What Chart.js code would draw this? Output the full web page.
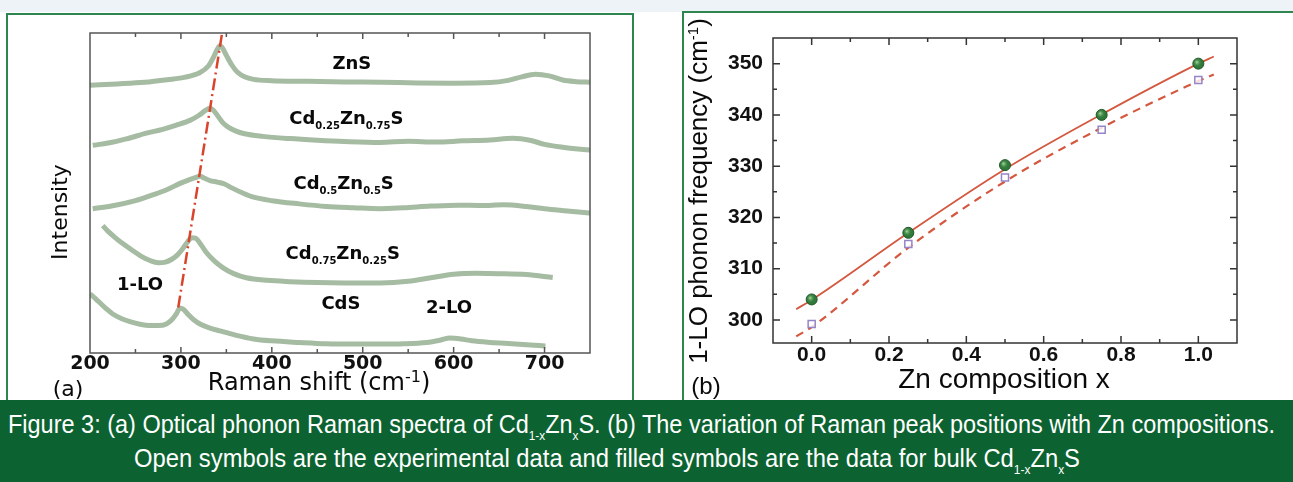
<!DOCTYPE html>
<html>
<head>
<meta charset="utf-8">
<script src="https://cdn.jsdelivr.net/npm/chart.js@4.4.1/dist/chart.umd.min.js"></script>
<style>
  html, body { margin: 0; padding: 0; background: #fff; }
  body { width: 1293px; height: 482px; position: relative; overflow: hidden; }
  #topStrip { position: absolute; left: 0; top: 0; width: 1293px; height: 12px; background: #eef3f8; }
  .panel { position: absolute; border: 2px solid #2f8550; background: #fff; box-sizing: border-box; }
  #panelA { left: 6px; top: 13px; width: 628px; height: 392px; }
  #panelB { left: 682px; top: 11px; width: 620px; height: 394px; }
  canvas { position: absolute; top: 0; }
  #chartA { left: 0; }
  #chartB { left: 640px; }
  #caption { position: absolute; left: 0; top: 400px; width: 1293px; height: 82px; background: #0c6331; color: #fff;
             font-family: 'Liberation Sans', Arial, sans-serif; font-size: 26px; }
  .capLine { position: absolute; white-space: nowrap; transform-origin: 0 0; line-height: 1; }
  .capLine sub { font-size: 13px; vertical-align: -7px; line-height: 0; }
</style>
</head>
<body>
<div id="topStrip"></div>
<div class="panel" id="panelA"></div>
<div class="panel" id="panelB"></div>
<canvas id="chartA" width="640" height="400"></canvas>
<canvas id="chartB" width="653" height="400"></canvas>
<div id="caption">
  <div class="capLine" id="capLine1" style="left:8px; top:11px;">Figure 3: (a) Optical phonon Raman spectra of Cd<sub>1-x</sub>Zn<sub>x</sub>S. (b) The variation of Raman peak positions with Zn compositions.</div>
  <div class="capLine" id="capLine2" style="left:134px; top:45px;">Open symbols are the experimental data and filled symbols are the data for bulk Cd<sub>1-x</sub>Zn<sub>x</sub>S</div>
</div>
<script>
// ---- (a) Raman spectra, arbitrary intensity units (stacked) ----
const shiftZnS = [200, 230, 260, 285, 305, 320, 330, 336, 340, 343, 346, 350, 356, 362, 370, 380, 400, 440, 480, 520, 560, 600, 640, 660, 675, 690, 705, 720, 735, 750];
const countsZnS = [83.7, 84.1, 84.6, 85.4, 86.2, 87.5, 89.6, 92.5, 94.9, 96.0, 95.2, 93.0, 90.0, 87.8, 86.3, 85.5, 85.1, 84.9, 84.7, 84.6, 84.4, 84.3, 84.5, 85.2, 86.3, 87.1, 86.6, 85.3, 84.8, 84.6];

const shiftCd25 = [203, 220, 240, 262, 280, 295, 310, 320, 327, 332, 336, 341, 346, 352, 360, 370, 390, 420, 450, 480, 519, 550, 580, 610, 640, 665, 685, 700, 720, 750];
const countsCd25 = [64.9, 65.6, 66.9, 68.7, 69.9, 71.2, 72.7, 74.3, 75.8, 76.5, 75.8, 73.9, 72.0, 70.6, 69.4, 68.5, 67.7, 67.0, 66.5, 66.1, 65.8, 66.2, 65.9, 66.3, 66.6, 67.1, 66.4, 65.2, 64.3, 63.4];

const shiftCd50 = [203, 225, 250, 270, 285, 299, 308, 315, 321, 326, 332, 340, 348, 356, 368, 380, 400, 430, 460, 490, 519, 545, 575, 605, 630, 655, 680, 700, 725, 750];
const countsCd50 = [45.1, 46.0, 47.6, 49.5, 51.1, 53.0, 54.0, 54.7, 55.2, 54.6, 53.9, 53.4, 52.8, 51.6, 50.0, 48.7, 47.6, 46.6, 45.8, 45.4, 45.1, 45.4, 45.9, 46.2, 46.1, 46.3, 45.8, 45.1, 44.4, 43.7];

const shiftCd75 = [214, 220, 228, 236, 246, 256, 266, 275, 283, 290, 296, 302, 307, 312, 316, 321, 328, 337, 346, 358, 372, 395, 420, 450, 480, 519, 550, 575, 600, 625, 650, 680, 709];
const countsCd75 = [39.8, 38.0, 36.0, 34.2, 32.2, 30.3, 28.9, 28.2, 28.4, 29.3, 30.6, 32.6, 34.6, 36.0, 35.9, 34.3, 31.4, 28.7, 26.7, 24.8, 23.5, 22.7, 22.3, 22.0, 21.9, 21.9, 22.4, 23.5, 24.6, 24.9, 24.8, 24.5, 23.6];

const shiftCdS = [200, 206, 212, 218, 225, 235, 245, 255, 265, 275, 284, 290, 295, 299, 303, 308, 314, 322, 332, 343, 360, 380, 400, 430, 460, 490, 519, 545, 570, 585, 596, 608, 620, 640, 660, 680, 701];
const countsCdS = [18.5, 17.0, 15.4, 13.8, 12.2, 10.7, 9.7, 9.0, 8.6, 8.6, 9.1, 10.4, 12.2, 14.1, 13.6, 12.0, 10.4, 8.9, 7.8, 6.9, 5.6, 4.4, 3.8, 3.3, 2.9, 2.8, 2.8, 2.9, 3.3, 4.0, 4.7, 4.4, 3.8, 3.3, 3.0, 2.6, 2.2];

// 1-LO peak guide (dash-dot)
const loPeakShift = [345, 297];
const loPeakLevel = [99.4, 14.1];

const shiftTicks = [200, 300, 400, 500, 600, 700];

// ---- (b) 1-LO frequency vs Zn composition ----
const znComposition = [0, 0.25, 0.5, 0.75, 1.0];
const bulkFrequency = [304.0, 317.0, 330.2, 340.0, 350.0];     // filled
const measuredFrequency = [299.2, 314.8, 327.8, 337.1, 346.8]; // open
const fitComposition = [-0.04, 0, 0.25, 0.5, 0.75, 1.0, 1.04];
const bulkFit = [302.1, 303.9, 317.0, 329.4, 340.1, 350.0, 351.4];
const measuredFit = [296.8, 298.6, 314.1, 327.0, 337.5, 346.6, 347.9];

const compTicks = [0, 0.2, 0.4, 0.6, 0.8, 1.0];
const compTickLabels = ['0.0', '0.2', '0.4', '0.6', '0.8', '1.0'];
const freqTicks = [300, 310, 320, 330, 340, 350];
const freqTickLabels = ['300', '310', '320', '330', '340', '350'];

const toXY = (xs, ys) => xs.map((x, i) => ({ x: x, y: ys[i] }));

// draw text made of normal / sub / sup pieces, baseline at y
function drawRich(ctx, parts, x, y, font, smallFont, shift) {
    let w = 0;
    parts.forEach(([t, k]) => { ctx.font = k ? smallFont : font; w += ctx.measureText(t).width; });
    let cx = x - w / 2;
    ctx.textAlign = 'left';
    ctx.textBaseline = 'alphabetic';
    parts.forEach(([t, k]) => {
        ctx.font = k ? smallFont : font;
        const dy = k === 'sub' ? shift : (k === 'sup' ? -shift : 0);
        ctx.fillText(t, cx, y + dy);
        cx += ctx.measureText(t).width;
    });
}

// box frame + inward ticks
const frameTicks = {
    id: 'frameTicks',
    afterDatasetsDraw(chart, args, opts) {
        const { ctx, chartArea: a, scales } = chart;
        ctx.save();
        ctx.strokeStyle = opts.color;
        ctx.lineWidth = opts.width;
        ctx.strokeRect(a.left, a.top, a.right - a.left, a.bottom - a.top);

        const each = (scale, step, major, fn) => {
            const n0 = Math.ceil(scale.min / step - 1e-9), n1 = Math.floor(scale.max / step + 1e-9);
            for (let n = n0; n <= n1; n++) {
                const v = n * step;
                if (Math.abs(v - scale.min) < 1e-9 || Math.abs(v - scale.max) < 1e-9) continue;
                const isMajor = Math.abs(v / major - Math.round(v / major)) < 1e-6;
                fn(scale.getPixelForValue(v), isMajor ? opts.majorLen : opts.minorLen);
            }
        };
        ctx.beginPath();
        if (opts.xStep) {
            each(scales.x, opts.xStep, opts.xMajor, (px, len) => {
                ctx.moveTo(px, a.bottom); ctx.lineTo(px, a.bottom - len);
                ctx.moveTo(px, a.top); ctx.lineTo(px, a.top + len);
            });
        }
        if (opts.yStep) {
            each(scales.y, opts.yStep, opts.yMajor, (py, len) => {
                ctx.moveTo(a.left, py); ctx.lineTo(a.left + len, py);
                ctx.moveTo(a.right, py); ctx.lineTo(a.right - len, py);
            });
        }
        ctx.stroke();
        ctx.restore();
    }
};

// in-plot labels (data units) and axis titles (pixels)
const textLayer = {
    id: 'textLayer',
    afterDatasetsDraw(chart, args, opts) {
        const { ctx, scales } = chart;
        ctx.save();
        ctx.fillStyle = '#0a0a0a';
        (opts.labels || []).forEach(l => {
            const px = scales.x.getPixelForValue(l.x);
            const py = scales.y.getPixelForValue(l.y);
            drawRich(ctx, l.parts, px, py + opts.labelSize * 0.36, `bold ${opts.labelSize}px ${opts.family}`, `bold ${opts.subSize}px ${opts.family}`, opts.subShift);
        });
        (opts.titles || []).forEach(t => {
            ctx.save();
            ctx.translate(t.x, t.y);
            if (t.rotate) ctx.rotate(-Math.PI / 2);
            const w = t.weight ? t.weight + ' ' : '';
            drawRich(ctx, t.parts, 0, t.size * 0.36, `${w}${t.size}px ${opts.family}`, `${w}${t.supSize || t.size}px ${opts.family}`, t.supShift || 0);
            ctx.restore();
        });
        ctx.restore();
    }
};

// light highlight on the filled (bulk) balls, placed on the drawn point elements
const ballShine = {
    id: 'ballShine',
    afterDatasetsDraw(chart) {
        const ctx = chart.ctx;
        chart.getDatasetMeta(0).data.forEach(pt => {
            const g = ctx.createRadialGradient(pt.x - 1.5, pt.y - 1.5, 0.3, pt.x - 1, pt.y - 1, 4.5);
            g.addColorStop(0, 'rgba(170,220,160,0.9)');
            g.addColorStop(1, 'rgba(60,130,65,0)');
            ctx.save();
            ctx.fillStyle = g;
            ctx.beginPath();
            ctx.arc(pt.x, pt.y, 5, 0, Math.PI * 2);
            ctx.fill();
            ctx.restore();
        });
    }
};

const traceStyle = { borderColor: '#a5bca3', borderWidth: 5, pointRadius: 0, cubicInterpolationMode: 'monotone', order: 1 };

new Chart(document.getElementById('chartA'), {
    type: 'line',
    data: {
        datasets: [
            { label: '1-LO', data: toXY(loPeakShift, loPeakLevel), borderColor: '#d9442c', borderWidth: 2.5,
              borderDash: [12, 4, 2, 4], pointRadius: 0, tension: 0, order: 0 },
            Object.assign({ label: 'ZnS', data: toXY(shiftZnS, countsZnS) }, traceStyle),
            Object.assign({ label: 'Cd0.25Zn0.75S', data: toXY(shiftCd25, countsCd25) }, traceStyle),
            Object.assign({ label: 'Cd0.5Zn0.5S', data: toXY(shiftCd50, countsCd50) }, traceStyle),
            Object.assign({ label: 'Cd0.75Zn0.25S', data: toXY(shiftCd75, countsCd75) }, traceStyle),
            Object.assign({ label: 'CdS', data: toXY(shiftCdS, countsCdS) }, traceStyle)
        ]
    },
    options: {
        responsive: false,
        animation: false,
        layout: { padding: { top: 33, right: 50, left: 0, bottom: 0 } },
        plugins: {
            legend: { display: false },
            tooltip: { enabled: false },
            frameTicks: { color: '#555', width: 1.5, xStep: 50, xMajor: 100, majorLen: 6, minorLen: 4 },
            textLayer: {
                family: "'DejaVu Sans', sans-serif", labelSize: 18, subSize: 10, subShift: 5,
                labels: [
                    { x: 488, y: 90.9, parts: [['ZnS']] },
                    { x: 482, y: 73.7, parts: [['Cd'], ['0.25', 'sub'], ['Zn'], ['0.75', 'sub'], ['S']] },
                    { x: 479, y: 53.3, parts: [['Cd'], ['0.5', 'sub'], ['Zn'], ['0.5', 'sub'], ['S']] },
                    { x: 478, y: 31.3, parts: [['Cd'], ['0.75', 'sub'], ['Zn'], ['0.25', 'sub'], ['S']] },
                    { x: 476, y: 15.7, parts: [['CdS']] },
                    { x: 595, y: 14.4, parts: [['2-LO']] },
                    { x: 255, y: 21.6, parts: [['1-LO']] }
                ],
                titles: [
                    { x: 59, y: 212, size: 22, rotate: true, parts: [['Intensity']] },
                    { x: 319, y: 381, size: 24, supSize: 16, supShift: 8, parts: [['Raman shift (cm'], ['-1', 'sup'], [')']] },
                    { x: 68, y: 388, size: 22, parts: [['(a)']] }
                ]
            }
        },
        scales: {
            x: {
                type: 'linear', min: 200, max: 750,
                afterBuildTicks: ax => { ax.ticks = shiftTicks.map(v => ({ value: v })); },
                ticks: { font: { family: "'DejaVu Sans', sans-serif", size: 19, weight: 'bold' }, color: '#111',
                         padding: 0, maxRotation: 0, autoSkip: false },
                grid: { display: false, drawTicks: false },
                border: { display: false },
                afterFit: s => { s.height = 47; }
            },
            y: {
                type: 'linear', min: 0, max: 100,
                ticks: { display: false },
                grid: { display: false, drawTicks: false },
                border: { display: false },
                afterFit: s => { s.width = 90; }
            }
        }
    },
    plugins: [frameTicks, textLayer]
});

new Chart(document.getElementById('chartB'), {
    type: 'line',
    data: {
        datasets: [
            { label: 'bulk', data: toXY(znComposition, bulkFrequency), showLine: false, pointStyle: 'circle',
              pointRadius: 5.5, backgroundColor: '#2f7a39', borderColor: '#1d5628', borderWidth: 1, order: 0 },
            { label: 'experiment', data: toXY(znComposition, measuredFrequency), showLine: false, pointStyle: 'rect',
              pointRadius: 5, backgroundColor: 'rgba(255,255,255,0.8)', borderColor: '#9585c6', borderWidth: 1.5, order: 0 },
            { label: 'bulk fit', data: toXY(fitComposition, bulkFit), borderColor: '#d4583f', borderWidth: 1.8,
              pointRadius: 0, cubicInterpolationMode: 'monotone', order: 1 },
            { label: 'experiment fit', data: toXY(fitComposition, measuredFit), borderColor: '#d4583f', borderWidth: 2.2,
              borderDash: [8, 6], pointRadius: 0, cubicInterpolationMode: 'monotone', order: 1 }
        ]
    },
    options: {
        responsive: false,
        animation: false,
        layout: { padding: { top: 38, right: 56, left: 0, bottom: 0 } },
        plugins: {
            legend: { display: false },
            tooltip: { enabled: false },
            frameTicks: { color: '#333', width: 1.5, xStep: 0.1, xMajor: 0.2, yStep: 5, yMajor: 10, majorLen: 7, minorLen: 4 },
            textLayer: {
                family: "'Liberation Sans', Arial, sans-serif",
                titles: [
                    { x: 58, y: 191, size: 26, rotate: true, supSize: 15, supShift: 9,
                      parts: [['1-LO phonon frequency (cm'], ['-1', 'sup'], [')']] },
                    { x: 364, y: 378, size: 28, parts: [['Zn composition x']] },
                    { x: 66, y: 385, size: 24, parts: [['(b)']] }
                ]
            }
        },
        scales: {
            x: {
                type: 'linear', min: -0.1, max: 1.1,
                afterBuildTicks: ax => { ax.ticks = compTicks.map(v => ({ value: v })); },
                ticks: { callback: (v, i) => compTickLabels[i],
                         font: { family: "'Liberation Sans', Arial, sans-serif", size: 21, weight: 'bold' }, color: '#111',
                         padding: 0, maxRotation: 0, autoSkip: false },
                grid: { display: false, drawTicks: false },
                border: { display: false },
                afterFit: s => { s.height = 57; }
            },
            y: {
                type: 'linear', min: 295.5, max: 355,
                afterBuildTicks: ax => { ax.ticks = freqTicks.map(v => ({ value: v })); },
                ticks: { callback: (v, i) => freqTickLabels[i],
                         font: { family: "'Liberation Sans', Arial, sans-serif", size: 21, weight: 'bold' }, color: '#111',
                         padding: 10, autoSkip: false },
                grid: { display: false, drawTicks: false },
                border: { display: false },
                afterFit: s => { s.width = 133; }
            }
        }
    },
    plugins: [frameTicks, textLayer, ballShine]
});

// squeeze the caption lines to the reference widths
function fitLine(id, width) {
    const el = document.getElementById(id);
    el.style.transform = `scaleX(${width / el.getBoundingClientRect().width})`;
}
fitLine('capLine1', 1267);
fitLine('capLine2', 946);
</script>
</body>
</html>
